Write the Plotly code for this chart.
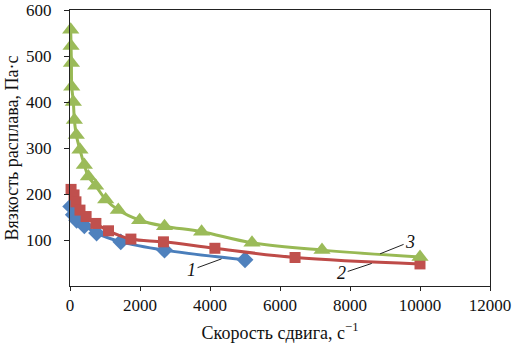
import plotly.graph_objects as go

# Curve 1 (blue diamonds)
x1 = [20, 95, 190, 410, 760, 1450, 2700, 5000]
y1 = [173, 155, 143, 131, 115, 96, 78, 57]
# Curve 2 (red squares)
x2 = [30, 115, 170, 285, 460, 740, 1100, 1740, 2670, 4140, 6430, 10000]
y2 = [210, 198, 183, 165, 151, 136, 120, 102, 96, 82, 62, 48]
# Curve 3 (green triangles)
x3 = [20, 30, 40, 50, 95, 125, 180, 285, 410, 524, 733, 1020, 1380, 1990, 2700, 3760, 5200, 7200, 10000]
y3 = [557, 522, 485, 433, 400, 361, 328, 296, 263, 238, 218, 188, 165, 143, 130, 118, 94, 78, 63]

x_ticks = [0, 2000, 4000, 6000, 8000, 10000, 12000]
x_tick_labels = ["0", "2000", "4000", "6000", "8000", "10000", "12000"]
y_ticks = [100, 200, 300, 400, 500, 600]
y_tick_labels = ["100", "200", "300", "400", "500", "600"]

FONT = "Liberation Serif"

fig = go.Figure()
fig.add_trace(go.Scatter(x=x1, y=y1, mode="lines+markers", cliponaxis=False,
                         line=dict(color="#4A7EBB", width=3, shape="spline"),
                         marker=dict(symbol="diamond", size=13, color="#4F81BD")))
fig.add_trace(go.Scatter(x=x2, y=y2, mode="lines+markers", cliponaxis=False,
                         line=dict(color="#BE4B48", width=3, shape="spline"),
                         marker=dict(symbol="square", size=11, color="#C0504D")))
fig.add_trace(go.Scatter(x=x3, y=y3, mode="lines+markers", cliponaxis=False,
                         line=dict(color="#98B954", width=3, shape="spline"),
                         marker=dict(symbol="triangle-up", size=15, color="#9BBB59")))

labels = [("1", 4330, 59, -30, 11), ("2", 8620, 49, -30, 10), ("3", 8860, 70, 30, -12)]
for t, px, py, ax, ay in labels:
    fig.add_annotation(x=px, y=py, text="<i>" + t + "</i>", showarrow=True, arrowhead=0, arrowwidth=1,
                       arrowcolor="#222", ax=ax, ay=ay,
                       font=dict(family=FONT, size=18, color="#111"), standoff=0)

fig.update_layout(
    width=517, height=346,
    margin=dict(l=70, r=27, t=10, b=60, autoexpand=False),
    paper_bgcolor="white", plot_bgcolor="white",
    showlegend=False,
    font=dict(family=FONT, size=17, color="#111"),
)
fig.update_xaxes(range=[0, 12000], tickvals=x_ticks, ticktext=x_tick_labels, showgrid=False, zeroline=False,
                 showline=True, linecolor="#222", linewidth=1, mirror=True, automargin=False,
                 ticks="outside", ticklen=4, tickcolor="#222", ticklabeloverflow="allow",
                 tickfont=dict(family=FONT, size=17),
                 title=dict(text="Скорость сдвига, с<sup>−1</sup>", font=dict(family=FONT, size=18), standoff=11))
fig.update_yaxes(range=[0, 600], tickvals=y_ticks, ticktext=y_tick_labels, showgrid=False, zeroline=False,
                 showline=True, linecolor="#222", linewidth=1, mirror=True, automargin=False,
                 ticks="outside", ticklen=5, tickcolor="#222", ticklabelstandoff=9, ticklabeloverflow="allow",
                 tickfont=dict(family=FONT, size=17),
                 title=dict(text="Вязкость расплава, Па·с", font=dict(family=FONT, size=18), standoff=2))

fig.write_html("out.html", config={"displayModeBar": False},
               post_script="document.body.style.margin='0';")
